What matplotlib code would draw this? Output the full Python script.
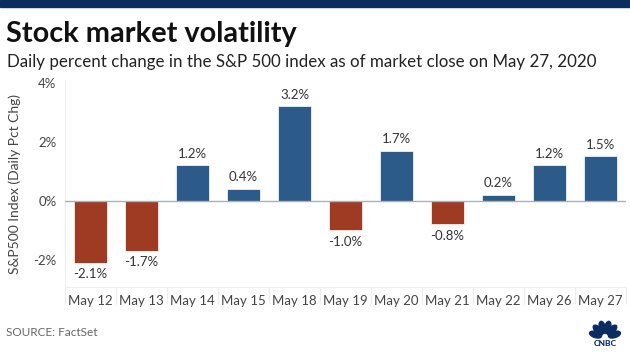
import matplotlib.pyplot as plt
from matplotlib.patches import Rectangle, Ellipse
import numpy as np

# --- Data ---
dates = ["May 12", "May 13", "May 14", "May 15", "May 18", "May 19",
         "May 20", "May 21", "May 22", "May 26", "May 27"]
pct_change = [-2.1, -1.7, 1.2, 0.4, 3.2, -1.0, 1.7, -0.8, 0.2, 1.2, 1.5]
y_ticks = [-2, 0, 2, 4]

BLUE = "#2c5b8a"
RED = "#9e3b22"
NAVY = "#0b2c5e"
GREY = "#444444"

plt.rcParams['font.family'] = ['Lato', 'DejaVu Sans']

fig = plt.figure(figsize=(6.3, 3.54), dpi=100)

# header band
fig.patches.append(Rectangle((0, 1 - 7 / 354), 1, 7 / 354, transform=fig.transFigure,
                             color=NAVY, zorder=0))
fig.text(6 / 630, 1 - 34 / 354, "Stock market volatility", fontsize=20.8,
         fontweight='bold', color='#111111', va='center', ha='left')
fig.text(7 / 630, 1 - 62 / 354,
         "Daily percent change in the S&P 500 index as of market close on May 27, 2020",
         fontsize=12.2, color='#222222', va='center', ha='left')

ax = fig.add_axes([65 / 630, 1 - 287 / 354, 561 / 630, 207 / 354])
x = np.arange(len(dates))
colors = [BLUE if v >= 0 else RED for v in pct_change]
ax.bar(x, pct_change, width=0.65, color=colors, edgecolor='white', linewidth=0.5, zorder=2)

for xi, v in zip(x, pct_change):
    if v >= 0:
        ax.annotate(f"{v:.1f}%", (xi, v), xytext=(0, 4), textcoords='offset points',
                    ha='center', va='bottom', fontsize=9.5, color='#333333')
    else:
        ax.annotate(f"{v:.1f}%", (xi, v), xytext=(0, -4), textcoords='offset points',
                    ha='center', va='top', fontsize=9.5, color='#333333')

ax.axhline(0, color='#a9b0b8', linewidth=1, zorder=3)
ax.set_xlim(-0.5, len(dates) - 0.5)
ax.set_ylim(-2.925, 4.09)
ax.set_yticks(y_ticks)
ax.set_yticklabels([f"{t}%" for t in y_ticks])
ax.set_xticks(x)
ax.set_xticklabels(dates)
ax.set_xticks(np.arange(-0.5, len(dates)), minor=True)
ax.tick_params(axis='both', which='major', length=0, labelsize=9.5, colors=GREY)
ax.tick_params(axis='x', which='major', pad=6)
ax.tick_params(axis='x', which='minor', length=12, color='#eeeeee', width=1)
ax.tick_params(axis='y', pad=6)
ax.set_ylabel("S&P500 Index (Daily Pct Chg)", fontsize=10, color=GREY, labelpad=9)

for side in ['top', 'right']:
    ax.spines[side].set_visible(False)
ax.spines['left'].set_color('#eeeeee')
ax.spines['bottom'].set_color('#eeeeee')

fig.text(6 / 630, 1 - 333 / 354, "SOURCE: FactSet", fontsize=8.5, color='#666666',
         va='center', ha='left')

# small peacock mark, bottom right
logo = fig.add_axes([585 / 630, 2 / 354, 40 / 630, 40 / 354])
logo.set_xlim(-1, 1)
logo.set_ylim(-1.0, 1.0)
logo.axis('off')
for ang in [18, 46, 75, 105, 134, 162]:
    r = np.deg2rad(ang)
    logo.add_patch(Ellipse((0.5 * np.cos(r), -0.3 + 0.55 * np.sin(r)), 0.62, 0.3,
                           angle=ang, color=NAVY))
logo.text(0, -0.55, "CNBC", ha='center', va='center', fontsize=6, fontweight='black',
          color=NAVY)

fig.savefig("out.png", dpi=100)
